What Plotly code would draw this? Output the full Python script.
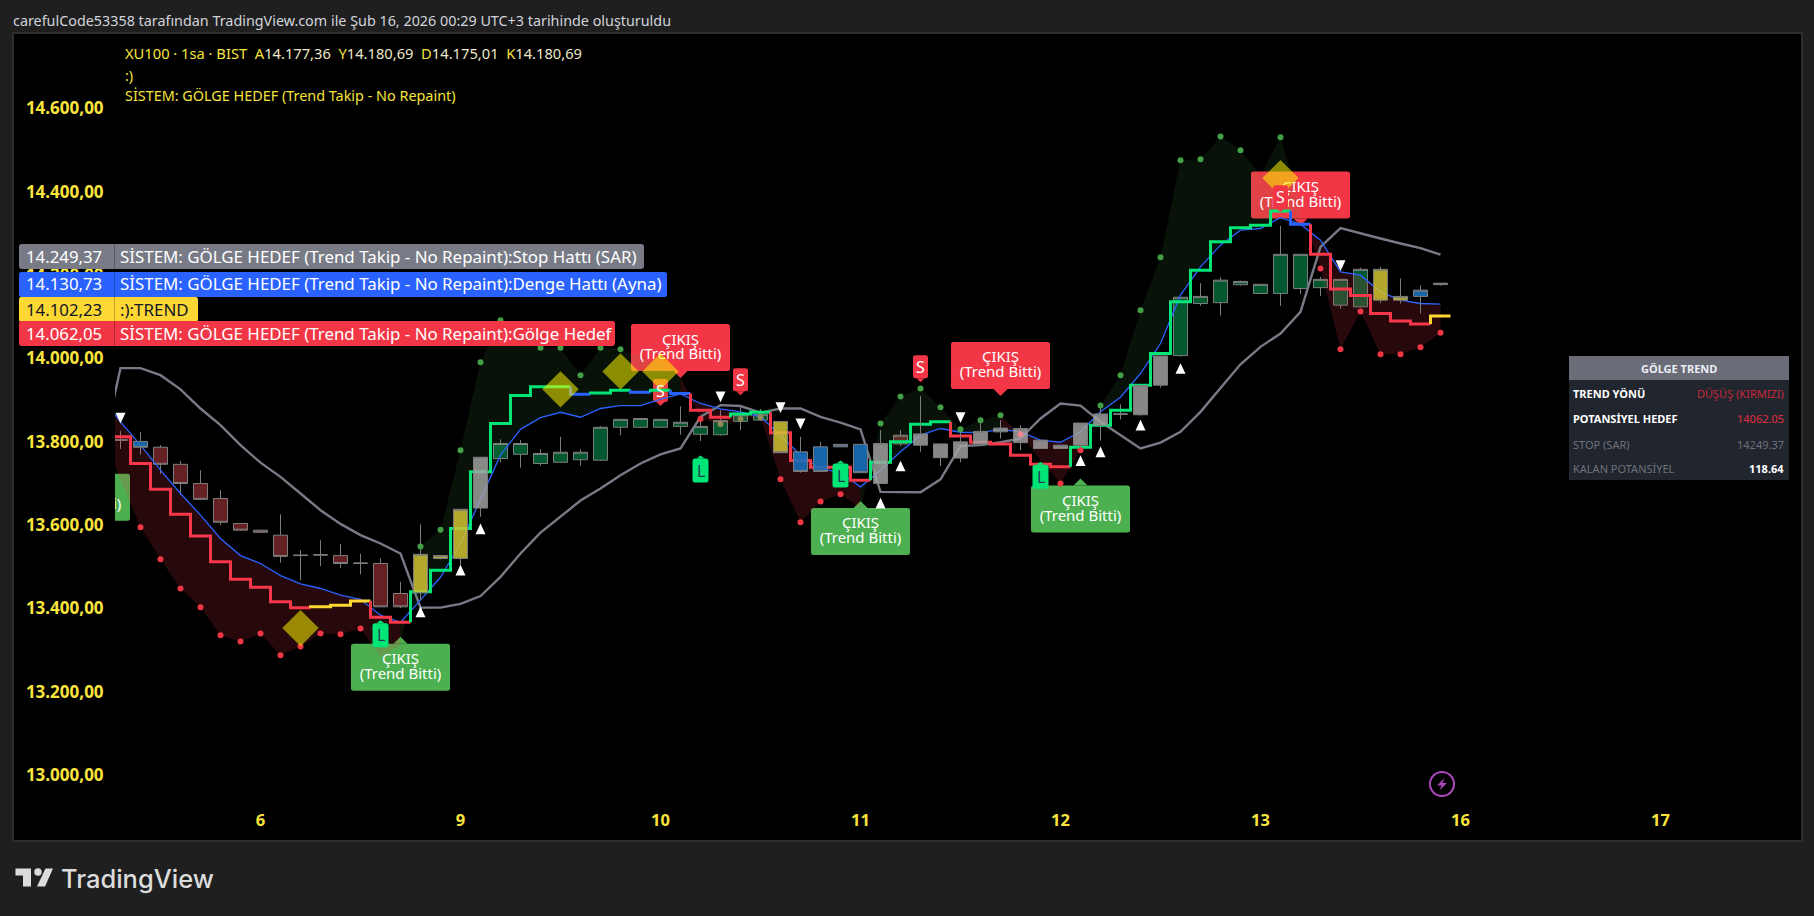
import plotly.graph_objects as go

W, H = 1814, 916
FONT = "Noto Sans"

# ---------- data (bar numbers count hourly bars from the left edge of the chart) ----------
bars = list(range(0, 67))
open_ = [13805,13801,13787,13746,13700,13664,13604,13588,13576,13527,13528,13527,13508,13508,13436,13438,13520,13520,13641,13760,
         13770,13748,13751,13757,13756,13835,13835,13835,13837,13818,13817,13849,13852,13849,13776,13788,13794,13794,13700,13795,
         13792,13762,13761,13795,13824,13798,13784,13784,13792,13840,13866,13865,13936,14007,14132,14134,14177,14156,14156,14168,
         14170,14128,14124,14140,14140,14149,14177.36]
high = [13826,13824,13792,13754,13732,13684,13604,13588,13626,13540,13564,13555,13531,13520,13464,13602,13527,13638,13763,13806,
        13804,13782,13812,13782,13838,13854,13856,13854,13885,13860,13876,13883,13879,13849,13812,13800,13794,13794,13828,13828,
        13910,13795,13830,13852,13852,13840,13804,13792,13845,13892,13890,13935,14006,14147,14181,14195,14187,14178,14318,14250,
        14196,14190,14218,14220,14192,14176,14180.69]
low = [13783,13769,13723,13672,13660,13600,13586,13581,13510,13468,13502,13497,13482,13403,13401,13420,13518,13504,13620,13750,
       13738,13743,13750,13743,13754,13816,13833,13834,13817,13802,13815,13828,13851,13774,13726,13727,13788,13725,13700,13790,
       13776,13742,13751,13794,13808,13780,13783,13783,13776,13803,13854,13863,13930,14004,14126,14103,14175,14155,14126,14155,
       14150,14120,14123,14134,14132,14108,14175.01]
close = [13804,13787,13746,13700,13662,13607,13588,13583,13525,13528,13529,13508,13509,13404,13404,13530,13527,13638,13763,13796,
         13796,13772,13775,13775,13835,13854,13856,13854,13847,13837,13851,13865,13866,13774,13729,13729,13788,13726,13796,13816,
         13819,13795,13800,13825,13833,13832,13804,13792,13845,13867,13867,13935,14006,14147,14149,14188,14185,14178,14250,14250,
         14190,14190,14214,14214,14149,14164,14180.69]
candle_style = (["doji","blue"] + ["red"]*7 + ["doji","doji","red","doji","red","red"] + ["yellow"]*3 + ["gray"] +
                ["green"]*14 + ["yellow"] + ["blue"]*4 + ["gray","red"] + ["gray"]*10 + ["doji","gray","gray"] +
                ["green"]*10 + ["yellow","yellow","blue","doji"])

line_bars = list(range(-1, 67))
stop_sar = [13759,13977,13977,13960,13926,13880,13840,13792,13750,13716,13676,13636,13603,13576,13556,13532,13402,13402,13411,13430,
            13476,13532,13582,13620,13659,13688,13720,13748,13770,13784,13860,13888,13886,13870,13880,13880,13860,13846,13830,13680,
            13679,13679,13710,13790,13792,13799,13808,13856,13892,13887,13848,13816,13784,13798,13824,13872,13928,13986,14028,14060,
            14112,14268,14313,14300,14288,14276,14265,14249.37]
denge = [13912,13848,13792,13732,13676,13624,13568,13527,13508,13479,13459,13448,13432,13422,13384,13367,13420,13475,13556,13660,
         13768,13830,13858,13871,13859,13880,13887,13887,13902,13915,13892,13879,13872,13860,13816,13768,13736,13726,13692,13732,
         13776,13816,13832,13823,13822,13830,13824,13804,13799,13824,13872,13907,13964,14036,14152,14220,14272,14308,14312,14338,
         14322,14284,14208,14200,14160,14140,14132,14130.73]
golge_hedef = [13836,13708,13595,13518,13448,13403,13336,13321,13340,13288,13309,13340,13338,13352,13284,13312,13549,13589,13780,13991,
               14092,14066,14026,14026,13960,14026,14022,14004,13988,13956,13855,13843,13855,13859,13710,13607,13657,13674,13640,13844,
               13909,13928,13883,13830,13852,13864,13818,13756,13700,13780,13887,13960,14116,14243,14476,14478,14533,14500,14440,14531,
               14364,14216,14022,14113,14010,14010,14027,14062.05]
trend = [13812,13748,13686,13626,13574,13512,13470,13451,13416,13402,13404,13408,13418,13379,13367,13440,13492,13592,13728,13844,
         13911,13932,13932,13914,13917,13924,13919,13924,13916,13876,13859,13867,13871,13822,13755,13739,13739,13708,13751,13800,
         13842,13848,13814,13799,13795,13768,13746,13740,13787,13840,13876,13936,14012,14136,14212,14280,14314,14320,14354,14322,
         14250,14167,14151,14108,14090,14083,14102.23]
trend_state = (["red"]*10 + ["yellow"]*3 + ["red"]*2 + ["green"]*8 + ["blue"] + ["green"]*2 + ["blue","green","blue"] + ["red"]*2 +
               ["green"]*2 + ["red"]*5 + ["green"]*4 + ["red"]*6 + ["green"]*11 + ["blue"] + ["red"]*6 + ["yellow"])
fill_runs = [("red",-1,14),("green",14,28),("red",28,37),("green",37,44),("red",44,48),("green",48,59),("red",59,66)]

red_dot_bars = [1,2,3,4,5,6,7,8,9,10,11,12,29,33,34,35,36,47,48,60,61,62,63,64,65,66]
tan_dot_bars = [30,31,32]
pink_dot_bars = [45]
green_dot_bars = [15,16,17,18,19,20,21,22,23,24,25,38,39,40,41,42,43,44,49,50,51,52,53,54,55,56,58]

up_tri_bars = [15,17,18,38,39,48,49,51,53]
up_tri_vals = [13392,13492,13591,13653,13742,13755,13776,13840,13976]
down_tri_bars = [0,30,33,34,42,61]
down_tri_vals = [13857,13908,13882,13843,13858,14223]
diamond_bars = [9,22,25,27,58]
diamond_vals = [13353,13926,13969,13969,14433]

exit_green_bars = [-2,14,37,48]
exit_green_vals = [13740,13332,13658,13712]
exit_red_bars = [28,44,59]
exit_red_vals = [13953,13910,14319]
s_bars = [27,31,40,58]
s_vals = [13886,13912,13943,14351]
l_bars = [13,29,36,46]
l_vals = [13372,13767,13755,13752]

y_ticks = [13000,13200,13400,13600,13800,14000,14200,14400,14600]
y_tick_text = ["13.000,00","13.200,00","13.400,00","13.600,00","13.800,00","14.000,00","14.200,00","14.400,00","14.600,00"]
x_ticks = [7,17,27,37,47,57,67,77]
x_tick_text = ["6","9","10","11","12","13","16","17"]

tags = [("14.249,37","SİSTEM: GÖLGE HEDEF (Trend Takip - No Repaint):Stop Hattı (SAR)","#787b86","#ffffff",244,269,644),
        ("14.130,73","SİSTEM: GÖLGE HEDEF (Trend Takip - No Repaint):Denge Hattı (Ayna)","#2962ff","#ffffff",272,297,667),
        ("14.102,23",":):TREND","#fdd835","#131722",297,322,198),
        ("14.062,05","SİSTEM: GÖLGE HEDEF (Trend Takip - No Repaint):Gölge Hedef","#f23645","#ffffff",321,346,615)]
table_rows = [("TREND YÖNÜ","#ffffff","DÜŞÜŞ (KIRMIZI)","#c8283c",393,False),
              ("POTANSİYEL HEDEF","#ffffff","14062.05","#e0303f",418,False),
              ("STOP (SAR)","#6f727c","14249.37","#6f727c",444,False),
              ("KALAN POTANSİYEL","#6f727c","118.64","#ffffff",469,True)]

# ---------- styles ----------
C_GREEN, C_RED, C_YEL, C_BLUE = "#00e676", "#f7374a", "#fdd835", "#2962ff"
C_LABEL_G, C_LABEL_R = "#4caf50", "#f23645"
STATE = {"red":C_RED,"yellow":C_YEL,"green":C_GREEN,"blue":C_BLUE}
FILL = {"red":"rgba(242,54,69,0.16)","green":"rgba(76,175,80,0.10)"}
CANDLE = {"red":("#642022","x","y"),"green":("#04582f","x","y"),"doji":("#808080","x","y"),
          "blue":("rgba(24,112,190,0.90)","x2","y2"),"yellow":("rgba(207,195,50,0.86)","x2","y2"),
          "gray":("rgba(165,165,165,0.82)","x2","y2")}
UNITS_PER_PX = 2.4

def px(x): return x / W
def py(y): return 1 - y / H

fig = go.Figure()

# shadow fills between the balance line and the target dots
idx = {b: i for i, b in enumerate(line_bars)}
for state, a, b in fill_runs:
    xs = list(range(a, b + 1))
    ys_t = [golge_hedef[idx[n]] for n in xs]
    ys_b = [denge[idx[n]] for n in xs]
    fig.add_trace(go.Scatter(x=xs + xs[::-1], y=ys_t + ys_b[::-1], mode="lines", fill="toself",
                             fillcolor=FILL[state], line=dict(width=0), hoverinfo="skip"))

# two-line callout texts, placed from the callout tip through the value axis
for bars_, vals_, sign in ((exit_green_bars, exit_green_vals, -1), (exit_red_bars, exit_red_vals, 1)):
    for txt, off in (("ÇIKIŞ", 6.8), ("(Trend Bitti)", -8.0)):
        fig.add_trace(go.Scatter(x=bars_, y=[v + (sign * 30.5 + off) * UNITS_PER_PX for v in vals_], mode="text",
                                 text=[txt] * len(bars_), textposition="middle center",
                                 textfont=dict(family=FONT, size=15, color="#ffffff"), hoverinfo="skip"))

# candles
for style, (fillc, xa, ya) in CANDLE.items():
    sel = [i for i, s in enumerate(candle_style) if s == style]
    fig.add_trace(go.Candlestick(
        x=[bars[i] for i in sel], open=[open_[i] for i in sel], high=[high[i] for i in sel],
        low=[low[i] for i in sel], close=[close[i] for i in sel], xaxis=xa, yaxis=ya,
        increasing=dict(fillcolor=fillc, line=dict(color="#7d7d7d", width=1)),
        decreasing=dict(fillcolor=fillc, line=dict(color="#7d7d7d", width=1)),
        whiskerwidth=0, hoverinfo="skip"))

# SAR and balance lines
fig.add_trace(go.Scatter(x=line_bars, y=stop_sar, mode="lines", line=dict(color="#787b86", width=2.4), hoverinfo="skip"))
fig.add_trace(go.Scatter(x=line_bars, y=denge, mode="lines", line=dict(color="#2962ff", width=1.3), hoverinfo="skip"))

# coloured step line, one run per state
start = 0
for i in range(1, len(bars) + 1):
    if i == len(bars) or trend_state[i] != trend_state[start]:
        xs, ys = [], []
        if start > 0:
            xs.append(bars[start] - 0.5); ys.append(trend[start - 1])
        for j in range(start, i):
            xs += [bars[j] - 0.5, bars[j] + 0.5]; ys += [trend[j], trend[j]]
        fig.add_trace(go.Scatter(x=xs, y=ys, mode="lines", line=dict(color=STATE[trend_state[start]], width=3),
                                 hoverinfo="skip"))
        start = i
fig.add_trace(go.Scatter(x=[57.6, 58.4], y=[14344, 14344], mode="lines", line=dict(color=C_RED, width=3), hoverinfo="skip"))

# markers on the top overlay
def dots(sel, color):
    fig.add_trace(go.Scatter(x=sel, y=[golge_hedef[idx[n]] for n in sel], mode="markers", xaxis="x3", yaxis="y3",
                             marker=dict(color=color, size=6, line=dict(width=0)), hoverinfo="skip"))
dots(red_dot_bars, "#f23645")
dots(tan_dot_bars, "#8f8a58")
dots(pink_dot_bars, "#f0868e")
dots(green_dot_bars, "#43a047")
fig.add_trace(go.Scatter(x=diamond_bars, y=diamond_vals, mode="markers", xaxis="x3", yaxis="y3",
                         marker=dict(symbol="diamond", color="rgba(255,245,0,0.54)", size=28, line=dict(width=0)), hoverinfo="skip"))

shapes, ann = [], []

def rect(x0, y0, x1, y1, fill, layer="above", line=None):
    shapes.append(dict(type="rect", xref="paper", yref="paper", x0=px(x0), x1=px(x1), y0=py(y0), y1=py(y1),
                       fillcolor=fill, line=line or dict(width=0), layer=layer))

def round_path(x0, y0, x1, y1, r, fx=lambda v: v, fy=lambda v: v):
    """Rounded rectangle path; x0<x1, y0<y1 in the path's own units."""
    def p(a, b): return f"{fx(a):.6f},{fy(b):.6f}"
    return (f"M {p(x0+r,y0)} L {p(x1-r,y0)} Q {p(x1,y0)} {p(x1,y0+r)} L {p(x1,y1-r)} Q {p(x1,y1)} {p(x1-r,y1)} "
            f"L {p(x0+r,y1)} Q {p(x0,y1)} {p(x0,y1-r)} L {p(x0,y0+r)} Q {p(x0,y0)} {p(x0+r,y0)} Z")

def text(x, y, s, color, size, anchor="left", bold=False, family=FONT, weight=None):
    f = dict(family=family, size=size, color=color)
    if weight: f["weight"] = weight
    ann.append(dict(xref="paper", yref="paper", x=px(x), y=py(y), text=f"<b>{s}</b>" if bold else s, showarrow=False,
                    xanchor=anchor, yanchor="middle", font=f, borderpad=0, borderwidth=0))

# dark panel
rect(13, 33, 1802, 841, "#000000", layer="below", line=dict(color="#2d2d2d", width=2))

def callout(n, v, w, top, bot, tip, color, layer, direction):
    """Pointer tip at (n, v); direction +1 = body above tip, -1 = body below."""
    lo, hi = sorted((direction * bot, direction * top))
    shapes.append(dict(type="path", xref="x", yref="y", xsizemode="pixel", ysizemode="pixel", xanchor=n, yanchor=v,
                       path=round_path(-w/2, lo, w/2, hi, 2.5), fillcolor=color, line=dict(width=0), layer=layer))
    shapes.append(dict(type="path", xref="x", yref="y", xsizemode="pixel", ysizemode="pixel", xanchor=n, yanchor=v,
                       path=f"M {-tip},{direction*bot} L 0,0 L {tip},{direction*bot} Z", fillcolor=color,
                       line=dict(width=0), layer=layer))

for n, v in zip(exit_green_bars, exit_green_vals):
    callout(n, v, 99, 54, 7, 7, C_LABEL_G, "between", -1)
for n, v in zip(exit_red_bars, exit_red_vals):
    callout(n, v, 99, 54, 7, 7, C_LABEL_R, "between", 1)
for n, v in zip(s_bars, s_vals):
    callout(n, v, 15, 27, 4, 4, C_LABEL_R, "between" if n == 27 else "above", 1)
    ann.append(dict(xref="x", yref="y", x=n, y=v, yshift=15.5, text="S", showarrow=False, xanchor="center", yanchor="middle",
                    font=dict(family=FONT, size=16, color="#ffffff")))
for n, v in zip(l_bars, l_vals):
    callout(n, v, 16, 27, 3, 4, C_GREEN, "above", -1)
    ann.append(dict(xref="x", yref="y", x=n, y=v, yshift=-15, text="L", showarrow=False, xanchor="center", yanchor="middle",
                    font=dict(family=FONT, size=16, color="#233f57")))

# white trend-start triangles, anchored on the value axis
for n, v in zip(up_tri_bars, up_tri_vals):
    shapes.append(dict(type="path", xref="x", yref="y", xsizemode="pixel", ysizemode="pixel", xanchor=n, yanchor=v,
                       path="M -5,-5.3 L 0,5.3 L 5,-5.3 Z", fillcolor="#ffffff", line=dict(width=0), layer="above"))
for n, v in zip(down_tri_bars, down_tri_vals):
    shapes.append(dict(type="path", xref="x", yref="y", xsizemode="pixel", ysizemode="pixel", xanchor=n, yanchor=v,
                       path="M -5,5.3 L 0,-5.3 L 5,5.3 Z", fillcolor="#ffffff", line=dict(width=0), layer="above"))

# price tags
for val, name, bg, fg, y0, y1, xr in tags:
    shapes.append(dict(type="path", xref="paper", yref="paper", path=round_path(19, y0, xr, y1, 2.5, px, py),
                       fillcolor=bg, line=dict(width=0), layer="above"))
    shapes.append(dict(type="line", xref="paper", yref="paper", x0=px(114.5), x1=px(114.5), y0=py(y0), y1=py(y1),
                       line=dict(color="rgba(0,0,0,0.25)", width=1), layer="above"))
    text(26, (y0 + y1) / 2 - 0.5, val, fg, 16.8)
    text(120, (y0 + y1) / 2 - 0.5, name, fg, 16.9)

# header and footer text
text(13, 20, "carefulCode53358 tarafından TradingView.com ile Şub 16, 2026 00:29 UTC+3 tarihinde oluşturuldu", "#d1d4dc", 14.35)
Y = "#f7e43a"; V = "#ece9c8"
text(125, 53, f"XU100 · 1sa · BIST  A<span style='color:{V}'>14.177,36</span>  Y<span style='color:{V}'>14.180,69</span>  "
              f"D<span style='color:{V}'>14.175,01</span>  K<span style='color:{V}'>14.180,69</span>", Y, 14.7)
text(125, 75, ":)", Y, 14.4)
text(125, 95.5, "SİSTEM: GÖLGE HEDEF (Trend Takip - No Repaint)", Y, 14.4)

# info table
rect(1569, 356, 1789, 380, "#6a6d78")
rect(1569, 380, 1789, 480, "#21252e")
text(1679, 368, "GÖLGE TREND", "#eceff5", 11, anchor="center", bold=True)
for left, lc, right, rc, y, bold in table_rows:
    text(1573, y, left, lc, 11, bold=lc == "#ffffff")
    text(1784, y, right, rc, 11, anchor="right", bold=bold)

# lightning icon
shapes.append(dict(type="circle", xref="paper", yref="paper", x0=px(1430), x1=px(1454), y0=py(796), y1=py(772),
                   line=dict(color="#ab47bc", width=2), fillcolor="rgba(0,0,0,0)", layer="above"))
def P(pts):
    return "M " + " L ".join(f"{px(a):.5f},{py(b):.5f}" for a, b in pts) + " Z"
shapes.append(dict(type="path", xref="paper", yref="paper",
                   path=P([(1444.5,778),(1437,785.5),(1441.5,785.5),(1439.5,790.5),(1447,783),(1442.5,783)]),
                   fillcolor="#ab47bc", line=dict(width=0), layer="above"))

# TradingView logo
for pts in ([(15.5,868.5),(31,868.5),(31,886.5),(23,886.5),(23,875.5),(15.5,875.5)],
            [(45.5,868.5),(53,868.5),(45,886.5),(37,886.5)]):
    shapes.append(dict(type="path", xref="paper", yref="paper", path=P(pts), fillcolor="#dcdcdc", line=dict(width=0), layer="above"))
shapes.append(dict(type="circle", xref="paper", yref="paper", x0=px(34.3), x1=px(41.7), y0=py(875.7), y1=py(868.3),
                   fillcolor="#dcdcdc", line=dict(width=0), layer="above"))
text(61, 878, "TradingView", "#dcdcdc", 25.5, family="Inter", weight=500)

X0, X1 = 115, 1800
Y0, Y1 = 34, 802
x_range = [(X0 - 120.5) / 20, (X1 - 120.5) / 20]
y_of = lambda yy: 14600 - (yy - 108.5) * UNITS_PER_PX
y_range = [y_of(Y1), y_of(Y0)]

hidden = dict(visible=False, showgrid=False, zeroline=False, rangeslider=dict(visible=False), fixedrange=True)
fig.update_layout(
    width=W, height=H, margin=dict(l=0, r=0, t=0, b=0), showlegend=False, hovermode=False,
    paper_bgcolor="#1f1f1f", plot_bgcolor="rgba(0,0,0,0)", dragmode=False, boxmode="overlay", boxgroupgap=0,
    font=dict(family=FONT),
    xaxis=dict(domain=[px(X0), px(X1)], range=x_range, tickmode="array", tickvals=x_ticks, ticktext=x_tick_text,
               showgrid=False, zeroline=False, showline=False, ticks="outside", ticklen=3, tickcolor="rgba(0,0,0,0)",
               tickfont=dict(family=FONT, size=16.5, color="#fbe53c", weight="bold"), rangeslider=dict(visible=False),
               tickangle=0),
    yaxis=dict(domain=[py(Y1), py(Y0)], range=y_range, tickmode="array", tickvals=y_ticks, ticktext=y_tick_text,
               showgrid=False, zeroline=False, showline=False, ticks="outside", ticklen=7, tickcolor="rgba(0,0,0,0)",
               tickfont=dict(family=FONT, size=17, color="#fbe53c", weight="bold")),
    xaxis2=dict(overlaying="x", anchor="y2", range=x_range, domain=[px(X0), px(X1)], **hidden),
    yaxis2=dict(overlaying="y", anchor="x2", range=y_range, domain=[py(Y1), py(Y0)], visible=False, showgrid=False, zeroline=False),
    xaxis3=dict(overlaying="x", anchor="y3", range=x_range, domain=[px(X0), px(X1)], **hidden),
    yaxis3=dict(overlaying="y", anchor="x3", range=y_range, domain=[py(Y1), py(Y0)], visible=False, showgrid=False, zeroline=False),
    shapes=shapes, annotations=ann,
)

fig.write_html("out.html", config={"displayModeBar": False},
               post_script="document.body.style.margin='0';document.body.style.background='#1f1f1f';document.documentElement.style.overflow='hidden';")
